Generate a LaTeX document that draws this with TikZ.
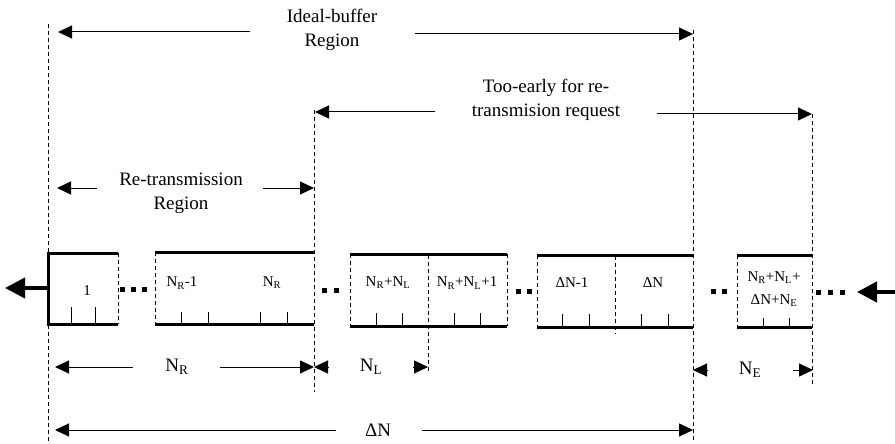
\documentclass[tikz,border=0pt]{standalone}
\usepackage{fontspec}
\setmainfont{Liberation Serif}
\usetikzlibrary{arrows.meta}
\newcommand\sbs[1]{\textsubscript{#1}}
\begin{document}
\begin{tikzpicture}[x=1pt,y=-1pt,
  guide/.style={line width=0.8pt, dash pattern=on 4pt off 3pt},
  rim/.style={line width=3pt},
  sidedash/.style={line width=0.8pt, dash pattern=on 4pt off 3pt},
  dimarrow/.style={line width=1pt, -{Triangle[length=14pt,width=13pt]}},
  bigarrow/.style={line width=4pt, -{Triangle[length=20pt,width=20pt]}},
  lbl/.style={font=\fontsize{19}{24}\selectfont, align=center, inner sep=0},
  boxlbl/.style={font=\fontsize{15}{23}\selectfont, align=center, inner sep=0},
  tk/.style={line width=0.9pt},
  sq/.style={fill=black, minimum size=5pt, inner sep=0, draw=none}
]
\useasboundingbox (0,0) rectangle (895,444);

% guide coordinates
\coordinate (gA) at (58,32);
\coordinate (gB) at (693,34);
\coordinate (gC) at (315,112);
\coordinate (gD) at (812,114);
\coordinate (gE) at (57,188);
\coordinate (gF) at (314,188);
\coordinate (gG) at (55,367);
\coordinate (gH) at (314,367);
\coordinate (gI) at (428,367);
\coordinate (gJ) at (55,430);
\coordinate (gK) at (693,430);
\coordinate (gL) at (693,370);
\coordinate (gM) at (813,370);

% vertical guides
\draw[guide] (48,24) -- (48,444);
\draw[guide] (314,110) -- (314,392);
\draw[guide] (693,30) -- (693,440);
\draw[guide] (812,114) -- (812,385);
\draw[guide] (428,255) -- (428,374);
\draw[guide] (615,256) -- (615,334);

% box 1
\draw[rim] (48,253) -- (118,253);
\draw[rim] (48,324) -- (118,324);
\draw[rim] (48,251.5) -- (48,325.5);
\draw[sidedash] (118,253) -- (118,324);
\foreach \x in {71,95} \draw[tk] (\x,307) -- (\x,324);
\node[boxlbl] (b1) at (87,291) {1};

% box 2
\draw[rim] (155,252) -- (314,252);
\draw[rim] (155,324) -- (314,324);
\draw[sidedash] (155,252) -- (155,324);
\foreach \x in {181,208,260,287} \draw[tk] (\x,312) -- (\x,324);
\node[boxlbl] (b2a) at (182,283) {N\sbs{R}-1};
\node[boxlbl] (b2b) at (272,283) {N\sbs{R}};

% box 3
\draw[rim] (350,254) -- (507,254);
\draw[rim] (350,326) -- (507,326);
\draw[sidedash] (350,254) -- (350,326);
\draw[sidedash] (507,254) -- (507,326);
\foreach \x in {376,402,454,480} \draw[tk] (\x,313) -- (\x,326);
\node[boxlbl] (b3a) at (388,283) {N\sbs{R}+N\sbs{L}};
\node[boxlbl] (b3b) at (467,283) {N\sbs{R}+N\sbs{L}+1};

% box 4
\draw[rim] (537,255) -- (693,255);
\draw[rim] (537,327) -- (693,327);
\draw[sidedash] (537,255) -- (537,327);
\foreach \x in {562,589,641,668} \draw[tk] (\x,314) -- (\x,327);
\node[boxlbl] (b4a) at (572,283) {ΔN-1};
\node[boxlbl] (b4b) at (653,283) {ΔN};

% box 5
\draw[rim] (737,255) -- (812,255);
\draw[rim] (737,327) -- (812,327);
\draw[sidedash] (737,255) -- (737,327);
\foreach \x in {763,789} \draw[tk] (\x,318) -- (\x,327);
\node[boxlbl] (b5) at (774,289) {N\sbs{R}+N\sbs{L}+\\ΔN+N\sbs{E}};

% dots
\foreach \x [count=\i] in {122,133,144} \node[sq] (da\i) at (\x,289) {};
\foreach \x [count=\i] in {324,336} \node[sq] (db\i) at (\x,290) {};
\foreach \x [count=\i] in {518,529} \node[sq] (dc\i) at (\x,291) {};
\foreach \x [count=\i] in {713,724} \node[sq] (dd\i) at (\x,291) {};
\foreach \x [count=\i] in {818,830,842} \node[sq] (de\i) at (\x,292) {};

% big arrows
\coordinate (inL) at (48,288);
\coordinate (outL) at (5,288);
\coordinate (inR) at (895,292);
\coordinate (outR) at (857,292);
\draw[bigarrow] (inL) -- (outL);
\draw[bigarrow] (inR) -- (outR);

% top labels and arrows
\node[lbl] (ib) at (332,30) {Ideal-buffer\\Region};
\draw[dimarrow] (250,32) -- (gA);
\draw[dimarrow] (415,34) -- (gB);

\node[lbl] (te) at (546,100) {Too-early for re-\\transmision request};
\draw[dimarrow] (435,112) -- (gC);
\draw[dimarrow] (657,114) -- (gD);

\node[lbl] (rt) at (181,193) {Re-transmission\\Region};
\draw[dimarrow] (97,188) -- (gE);
\draw[dimarrow] (263,188) -- (gF);

% bottom dimension arrows
\node[lbl] (nr) at (177,367) {N\sbs{R}};
\draw[dimarrow] (133,367) -- (gG);
\draw[dimarrow] (220,367) -- (gH);

\node[lbl] (nl) at (371,367) {N\sbs{L}};
\draw[dimarrow] (329,367) -- (314,367);
\draw[dimarrow] (413,367) -- (gI);

\node[lbl] (dn) at (378,430) {ΔN};
\draw[dimarrow] (336,430) -- (gJ);
\draw[dimarrow] (422,430) -- (gK);

\node[lbl] (ne) at (750,370) {N\sbs{E}};
\draw[dimarrow] (708,370) -- (gL);
\draw[dimarrow] (793,370) -- (gM);
\end{tikzpicture}
\end{document}
